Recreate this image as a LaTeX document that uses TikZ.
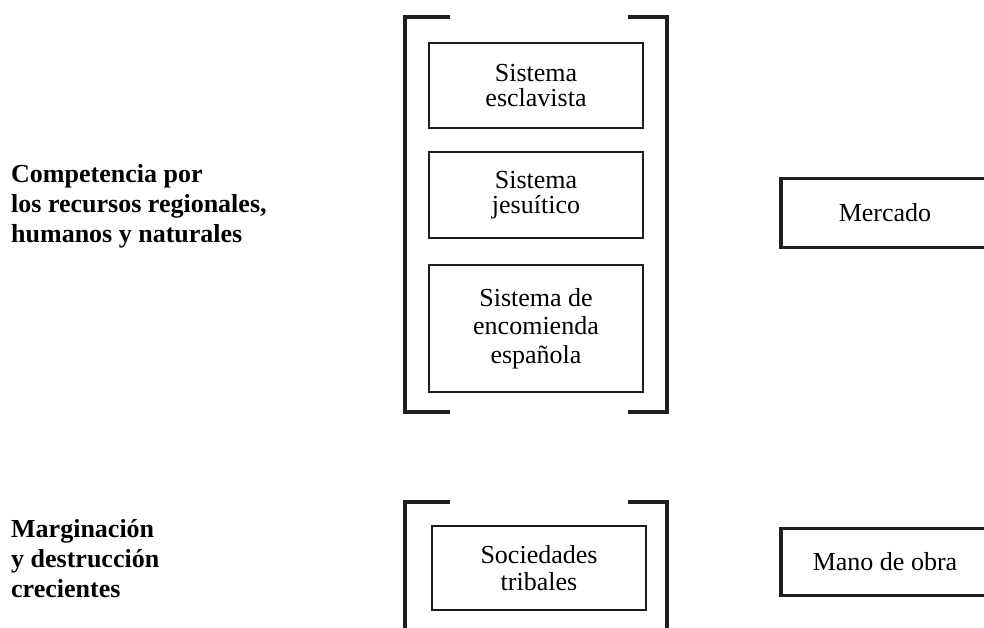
\documentclass[tikz,border=0pt]{standalone}
\usepackage{fontspec}
\setmainfont{Liberation Serif}
\begin{document}
\begin{tikzpicture}[x=1pt,y=-1pt,
  inbox/.style={draw=black!88,line width=1.8pt,minimum width=214pt,inner sep=0pt,align=center,
    font=\fontsize{26}{25}\selectfont},
  brack/.style={draw=black!88,line width=4pt},
  sidebox/.style={draw=black!88,line width=3pt},
  sideedge/.style={draw=black!88,line width=4.5pt},
  lefttext/.style={anchor=base west,align=left,inner sep=0pt,font=\fontsize{26}{30}\selectfont\bfseries},
  rtext/.style={inner sep=0pt,font=\fontsize{26}{25}\selectfont}]
\useasboundingbox (0,0) rectangle (984,628);
% left labels (anchored at last baseline)
\node[lefttext] (comp) at (11,243) {Competencia por\\los recursos regionales,\\humanos y naturales};
\node[lefttext] (marg) at (11,597) {Marginación\\y destrucción\\crecientes};
% upper bracket group
\draw[brack] (450,17) -- (405,17) -- (405,412) -- (450,412);
\draw[brack] (628,17) -- (667,17) -- (667,412) -- (628,412);
\node[inbox,minimum height=85pt] (escl) at (536,85.5) {Sistema\\esclavista};
\node[inbox,minimum height=86pt] (jesu) at (536,195) {Sistema\\jesuítico};
\node[inbox,minimum height=127pt,font=\fontsize{26}{28.5}\selectfont] (enco) at (536,328.5) {Sistema de\\encomienda\\española};
% lower bracket group
\draw[brack] (450,502) -- (405,502) -- (405,632);
\draw[brack] (628,502) -- (667,502) -- (667,632);
\node[inbox,minimum height=84pt,font=\fontsize{26}{27}\selectfont] (soci) at (539,568) {Sociedades\\tribales};
% right boxes (open to the right edge)
\draw[sidebox] (990,179) -- (781,179) -- (781,247) -- (990,247);
\draw[sideedge] (781,177.5) -- (781,248.5);
\node[rtext] (merc) at (885,213) {Mercado};
\draw[sidebox] (990,528) -- (781,528) -- (781,595) -- (990,595);
\draw[sideedge] (781,526.5) -- (781,596.5);
\node[rtext] (mano) at (885,562) {Mano de obra};
\end{tikzpicture}
\end{document}
